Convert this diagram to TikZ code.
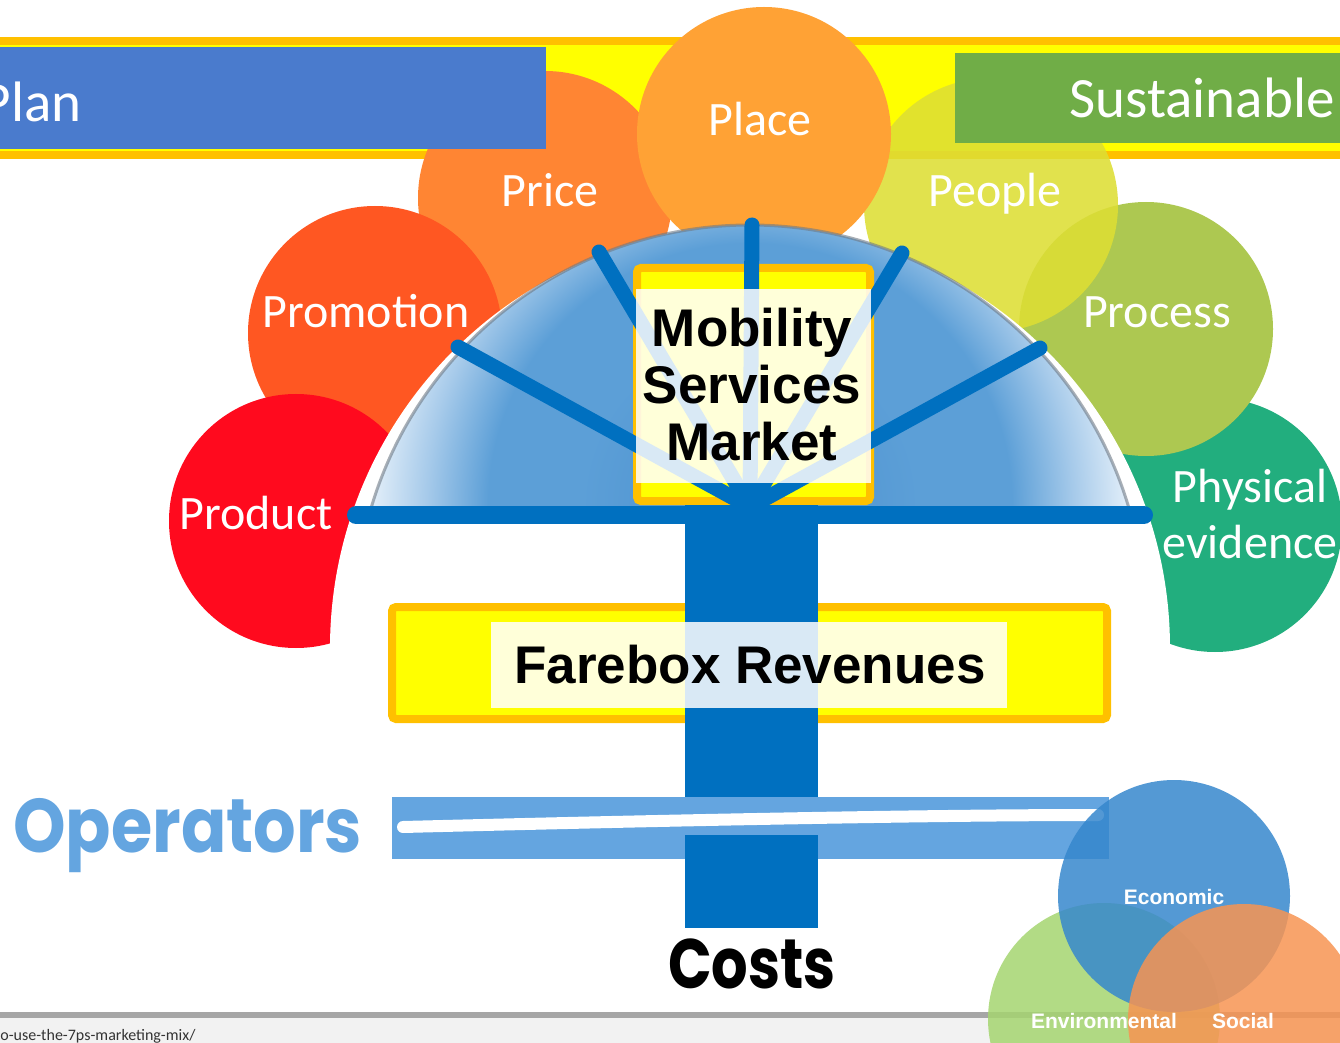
\documentclass[tikz,border=0pt]{standalone}
\usepackage{fontspec}
\setmainfont{Carlito}
\newfontfamily\arialfont{Liberation Sans}
\newfontfamily\geofont{Poppins}[FakeStretch=0.88]
\newfontfamily\geonarrow{Poppins}[FakeStretch=0.82]
\usetikzlibrary{positioning}

\definecolor{bandorange}{HTML}{FFC000}
\definecolor{bandyellow}{HTML}{FFFF00}
\definecolor{planblue}{HTML}{4A7BCD}
\definecolor{sustgreen}{HTML}{70AD47}
\definecolor{cprod}{HTML}{FF0A1E}
\definecolor{cpromo}{HTML}{FF5722}
\definecolor{cprice}{HTML}{FF8533}
\definecolor{cplace}{HTML}{FFA235}
\definecolor{cpeop}{HTML}{DDDE34}
\definecolor{cproc}{HTML}{ADC851}
\definecolor{cphys}{HTML}{22AE7E}
\definecolor{trunkblue}{HTML}{0070C0}
\definecolor{opsblue}{HTML}{64A5E0}
\definecolor{rimgray}{HTML}{6F7A86}
\definecolor{domedeep}{HTML}{4A8FCF}
\definecolor{domemid}{HTML}{5C9FD7}
\definecolor{domesoft}{HTML}{A6CAEA}
\definecolor{domepale}{HTML}{EAF3FB}
\definecolor{linegray}{HTML}{A6A6A6}
\definecolor{footgray}{HTML}{F2F2F2}
\definecolor{vblue}{HTML}{3687CD}
\definecolor{vgreen}{HTML}{A5D570}
\definecolor{vorange}{HTML}{F79452}

\pgfdeclareradialshading{domeshade}{\pgfpoint{0bp}{0bp}}{color(0bp)=(domedeep); color(11bp)=(domemid); color(17bp)=(domemid); color(21bp)=(domesoft); color(25bp)=(domepale); color(50bp)=(domepale)}

\begin{document}
\begin{tikzpicture}[x=0.5pt,y=-0.5pt,
	petal/.style={text=white,inner sep=0pt,anchor=base,align=center,font=\fontsize{24pt}{28pt}\selectfont},
	headtext/.style={text=white,inner sep=0pt,anchor=base east,font=\fontsize{28.5pt}{34pt}\selectfont},
	blacktext/.style={text=black,inner sep=0pt,anchor=base,align=center,font=\arialfont\bfseries\fontsize{26.5pt}{28.3pt}\selectfont},
	spoke/.style={draw=trunkblue,line width=7.5pt,line cap=round},
	yellowbox/.style={draw=bandorange,fill=bandyellow,line width=4pt,rounded corners=2pt},
	veil/.style={fill=white,fill opacity=0.85},
	venn/.style={text=white,inner sep=0pt,anchor=base,font=\arialfont\bfseries\fontsize{10.5pt}{12pt}\selectfont}]
	\useasboundingbox (0,0) rectangle (1340,1043);
	\clip (0,0) rectangle (1340,1043);

	% band at the top
	\fill[bandorange] (0,37) rectangle (1340,159);
	\fill[bandyellow] (0,45) rectangle (1340,151);

	% the seven P
	\foreach \cx/\cy/\col/\op in {1215/525/cphys/1, 1146/329/cproc/1, 991/205/cpeop/0.88, 545/198/cprice/1, 375/333/cpromo/1, 296/521/cprod/1, 764/134/cplace/1}
		\fill[\col,fill opacity=\op] (\cx,\cy) circle (127);

	\fill[planblue] (0,47) rectangle (546,149);
	\node[headtext] (plan) at (82,122) {Plan};
	\fill[sustgreen] (955,53) rectangle (1340,143);
	\node[headtext] (sust) at (1335,118) {Sustainable};

	\node[petal] (place) at (760,136) {Place};
	\node[petal] (price) at (550,207) {Price};
	\node[petal] (people) at (995,207) {People};
	\node[petal] (promo) at (366,328) {Promotion};
	\node[petal] (process) at (1157,328) {Process};
	\node[petal] (product) at (256,530) {Product};
	\node[petal] (physical) at (1250,558) {Physical\\evidence};

	% dome
	\begin{scope}
		\clip (300,648) rectangle (1200,150);
		\fill[white] (750,648) circle (420);
	\end{scope}
	\begin{scope}
		\clip (340,505) rectangle (1160,150);
		\clip (750,620) circle (395);
		\shade[shading=domeshade] (750,505) circle (385);
	\end{scope}
	\begin{scope}
		\clip (340,505) rectangle (1160,150);
		\draw[rimgray,line width=1.5pt,draw opacity=0.6] (750,620) circle (395);
	\end{scope}

	\draw[yellowbox] (637,268) rectangle (870,501);

	\coordinate (hub) at (750,507);
	\coordinate (s1) at (458,347);
	\coordinate (s2) at (599,252);
	\coordinate (s3) at (752,225);
	\coordinate (s4) at (902,253);
	\coordinate (s5) at (1040,348);
	\coordinate (barl) at (356,515);
	\coordinate (barr) at (1144,515);
	\foreach \s in {s1,s2,s3,s4,s5}
		\draw[spoke] (hub) -- (\s);
	\draw[spoke,line width=9pt] (barl) -- (barr);

	\fill[veil] (636,289) rectangle (871,483);
	\node[blacktext] (market) at (752,460) {Mobility\\Services\\Market};

	% trunk
	\draw[yellowbox] (392,607) rectangle (1107,719);
	\fill[trunkblue] (685,505) rectangle (818,797);
	\fill[veil] (491,622) rectangle (1007,708);
	\node[blacktext] (farebox) at (750,683) {Farebox Revenues};

	\fill[opsblue] (392,797) rectangle (1109,859);
	\draw[white,line width=6pt,line cap=round] (403,827) .. controls (600,822) and (900,815) .. (1098,815);
	\fill[trunkblue] (685,835) rectangle (818,928);
	\node[text=opsblue,inner sep=0pt,anchor=base west,font=\geofont\bfseries\fontsize{38pt}{42pt}\selectfont] (operators) at (13,852) {Operators};
	\node[text=black,inner sep=0pt,anchor=base,font=\geonarrow\bfseries\fontsize{35pt}{38pt}\selectfont] (costs) at (752,988) {Costs};

	% footer
	\fill[footgray] (0,1018) rectangle (1340,1043);
	\fill[linegray] (0,1012) rectangle (1340,1018);
	\node[inner sep=0pt,anchor=base west,text=black!80,font=\fontsize{8pt}{9pt}\selectfont] (url) at (0,1040) {o-use-the-7ps-marketing-mix/};

	% triple bottom line
	\fill[vgreen,fill opacity=0.85] (1104,1019) circle (116);
	\fill[vblue,fill opacity=0.85] (1174,896) circle (116);
	\fill[vorange,fill opacity=0.85] (1244,1020) circle (116);
	\node[venn] (econ) at (1174,904) {Economic};
	\node[venn] (env) at (1104,1028) {Environmental};
	\node[venn] (social) at (1243,1028) {Social};
\end{tikzpicture}
\end{document}
